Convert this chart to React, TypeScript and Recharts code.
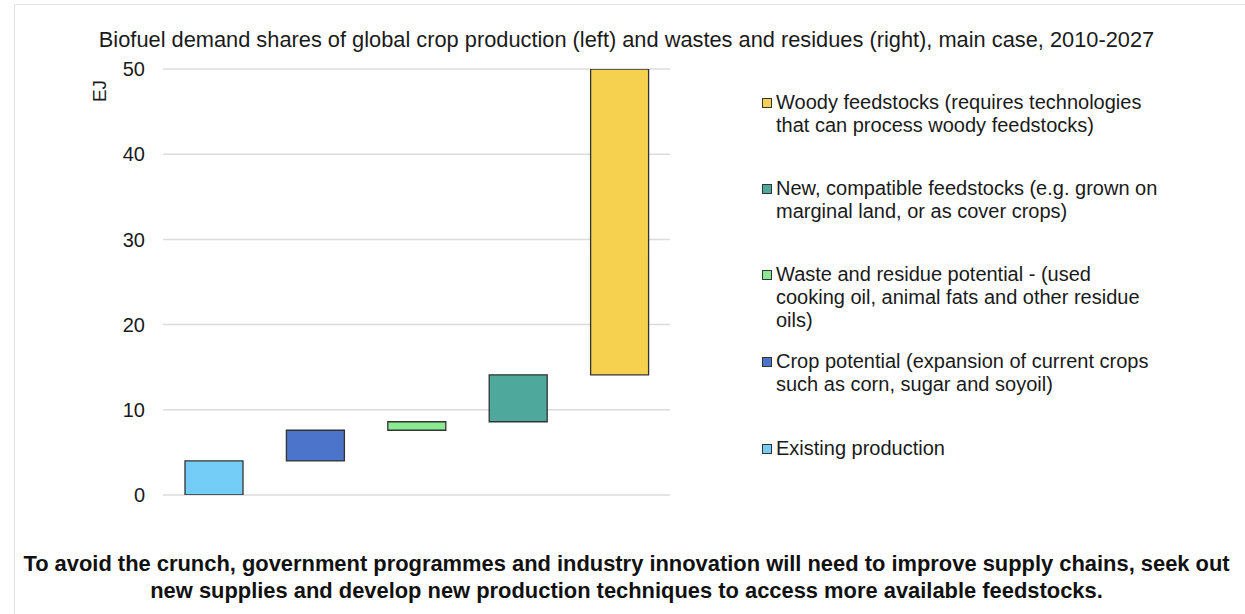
import React from 'react'
import { BarChart, Bar, XAxis, YAxis, CartesianGrid, Cell } from 'recharts'

const categories = ['Existing production', 'Crop potential', 'Waste and residue potential', 'New, compatible feedstocks', 'Woody feedstocks']
const bases = [0, 4.0, 7.6, 8.6, 14.1]
const tops = [4.0, 7.6, 8.6, 14.1, 50]
const colors = ['#73CDF7', '#4B74CA', '#8BE993', '#4EA99C', '#F5D14F']
const yTicks = [0, 10, 20, 30, 40, 50]

// legend is listed top to bottom (reverse of bars)
const legendLabels = [
  'Woody feedstocks (requires technologies\nthat can process woody feedstocks)',
  'New, compatible feedstocks (e.g. grown on\nmarginal land, or as cover crops)',
  'Waste and residue potential - (used\ncooking oil, animal fats and other residue\noils)',
  'Crop potential (expansion of current crops\nsuch as corn, sugar and soyoil)',
  'Existing production',
]
const legendColors = ['#F5D14F', '#4EA99C', '#8BE993', '#4B74CA', '#73CDF7']
const legendTops = [91, 177, 263, 350, 437]

const title = 'Biofuel demand shares of global crop production (left) and wastes and residues (right), main case, 2010-2027'
const footnote = 'To avoid the crunch, government programmes and industry innovation will need to improve supply chains, seek out\nnew supplies and develop new production techniques to access more available feedstocks.'

const data = categories.map((name, i) => ({ name, base: bases[i], value: tops[i] - bases[i] }))

const font = 'Arial, "Liberation Sans", Helvetica, sans-serif'

export default function App() {
  return (
    <div style={{ position: 'absolute', left: 0, top: 0, width: 1245, height: 614, background: '#fff', fontFamily: font, overflow: 'hidden' }}>
      {/* frame */}
      <div style={{ position: 'absolute', left: 14, top: 4, width: 1240, height: 620, borderLeft: '1.5px solid #e2e2e2', borderTop: '1.5px solid #e2e2e2' }} />

      <div style={{ position: 'absolute', left: 0, top: 27, width: 1253, textAlign: 'center', fontSize: 21.8, color: '#1a1a1a' }}>
        {title}
      </div>

      <div style={{ position: 'absolute', left: 89, top: 80, fontSize: 19, color: '#1a1a1a', transform: 'rotate(-90deg)' }}>EJ</div>

      <div style={{ position: 'absolute', left: 0, top: 0 }}>
        <BarChart width={680} height={520} data={data} margin={{ top: 69, right: 10, bottom: 25, left: 0 }} barSize={58}>
          <CartesianGrid vertical={false} stroke="#dcdcdc" strokeWidth={1.5} />
          <XAxis dataKey="name" hide />
          <YAxis
            width={163}
            domain={[0, 50]}
            ticks={yTicks}
            allowDataOverflow
            axisLine={false}
            tickLine={false}
            tickMargin={12}
            tick={{ fontSize: 20, fill: '#1a1a1a', fontFamily: font }}
          />
          <Bar dataKey="base" stackId="a" fill="transparent" isAnimationActive={false} />
          <Bar dataKey="value" stackId="a" stroke="#333" strokeWidth={1.3} isAnimationActive={false}>
            {data.map((_, i) => (
              <Cell key={i} fill={colors[i]} />
            ))}
          </Bar>
        </BarChart>
      </div>

      {legendLabels.map((label, i) => (
        <div key={i} style={{ position: 'absolute', left: 762, top: legendTops[i], display: 'flex', alignItems: 'flex-start' }}>
          <div style={{ width: 10, height: 10, marginTop: 7, background: legendColors[i], border: '1.3px solid #333', boxSizing: 'border-box' }} />
          <div style={{ marginLeft: 4, fontSize: 20, lineHeight: '23px', color: '#1a1a1a', whiteSpace: 'pre-line' }}>{label}</div>
        </div>
      ))}

      <div style={{ position: 'absolute', left: 0, top: 550, width: 1253, textAlign: 'center', fontSize: 21.9, fontWeight: 'bold', lineHeight: '27px', color: '#111', whiteSpace: 'pre-line' }}>
        {footnote}
      </div>
    </div>
  )
}
